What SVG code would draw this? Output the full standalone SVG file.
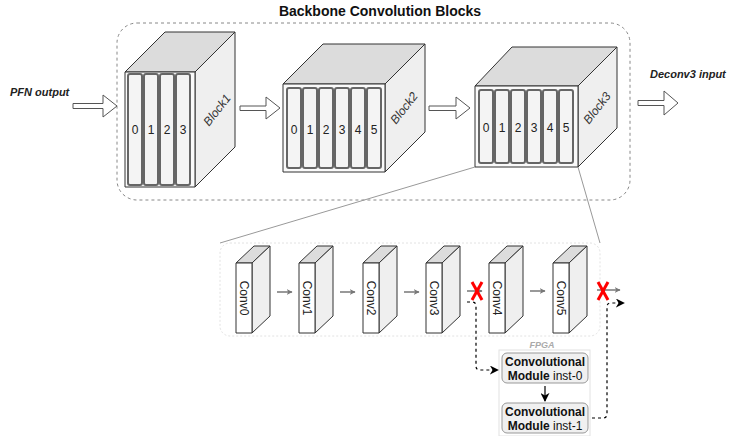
<svg xmlns="http://www.w3.org/2000/svg" width="742" height="436" viewBox="0 0 742 436">
<defs>
<marker id="ag" viewBox="0 0 10 10" refX="9" refY="5" markerWidth="6" markerHeight="6" orient="auto" markerUnits="userSpaceOnUse"><path d="M0,0 L10,5 L0,10 L3,5 Z" fill="#777"/></marker>
<marker id="ab" viewBox="0 0 10 10" refX="9" refY="5" markerWidth="9" markerHeight="9" orient="auto" markerUnits="userSpaceOnUse"><path d="M0,0 L10,5 L0,10 L3,5 Z" fill="#000"/></marker>
</defs>
<style>
text{font-family:"Liberation Sans",Arial,sans-serif;}
.t{font-size:12px;fill:#222;text-anchor:middle;}
.lbl{font-size:11px;font-weight:bold;font-style:italic;fill:#222;}
.face{stroke:#333;stroke-width:1;stroke-linejoin:round;}
.front{fill:#fafafa;}
.top{fill:#dcdcdc;}
.side{fill:#efefef;}
.slot{fill:#f4f4f4;stroke:#666;stroke-width:2;}
.blk{font-size:12px;font-style:italic;fill:#333;text-anchor:middle;}
.hollow{fill:#fff;stroke:#555;stroke-width:1;stroke-linejoin:round;}
.g{stroke:#777;stroke-width:1.5;fill:none;}
.x{stroke:#ff0000;stroke-width:3;}
.d{stroke:#000;stroke-width:1.2;stroke-dasharray:3,3;fill:none;}
.mod{fill:#f0f0f0;stroke:#999;stroke-width:1;}
.mt{font-size:12px;fill:#111;text-anchor:middle;}
</style>
<rect width="742" height="436" fill="#fff"/>
<text x="380" y="16" style="font-size:14px;font-weight:bold;fill:#111;text-anchor:middle">Backbone Convolution Blocks</text>
<rect x="117" y="23" width="513" height="177" rx="20" fill="none" stroke="#888" stroke-dasharray="3,3"/>
<text class="lbl" x="10" y="96">PFN output</text>
<text class="lbl" x="650" y="78">Deconv3 input</text>

<g id="block1">
<polygon class="face top" points="125,72 165,32 235,32 195,72"/>
<polygon class="face side" points="195,72 235,32 235,147 195,187"/>
<rect class="face front" x="125" y="72" width="70" height="115"/>
<rect class="slot" x="128" y="74" width="14" height="111" rx="2"/>
<rect class="slot" x="144" y="74" width="14" height="111" rx="2"/>
<rect class="slot" x="160" y="74" width="14" height="111" rx="2"/>
<rect class="slot" x="176" y="74" width="14" height="111" rx="2"/>
<text class="t" x="135" y="134">0</text><text class="t" x="151" y="134">1</text><text class="t" x="167" y="134">2</text><text class="t" x="183" y="134">3</text>
<text class="blk" transform="translate(217,110) rotate(-52)" y="4">Block1</text>
</g>

<g id="block2">
<polygon class="face top" points="283,84 323,44 425,44 385,84"/>
<polygon class="face side" points="385,84 425,44 425,132 385,172"/>
<rect class="face front" x="283" y="84" width="102" height="88"/>
<rect class="slot" x="287" y="88" width="14" height="80" rx="2"/>
<rect class="slot" x="303" y="88" width="14" height="80" rx="2"/>
<rect class="slot" x="319" y="88" width="14" height="80" rx="2"/>
<rect class="slot" x="335" y="88" width="14" height="80" rx="2"/>
<rect class="slot" x="351" y="88" width="14" height="80" rx="2"/>
<rect class="slot" x="367" y="88" width="14" height="80" rx="2"/>
<text class="t" x="294" y="134">0</text><text class="t" x="310" y="134">1</text><text class="t" x="326" y="134">2</text><text class="t" x="342" y="134">3</text><text class="t" x="358" y="134">4</text><text class="t" x="374" y="134">5</text>
<text class="blk" transform="translate(404,108) rotate(-52)" y="4">Block2</text>
</g>

<g id="block3">
<polygon class="face top" points="475,86 512,47 617,47 578,86"/>
<polygon class="face side" points="578,86 617,47 617,128 578,167"/>
<rect class="face front" x="475" y="86" width="103" height="81"/>
<rect class="slot" x="479" y="90" width="14" height="73" rx="2"/>
<rect class="slot" x="495" y="90" width="14" height="73" rx="2"/>
<rect class="slot" x="511" y="90" width="14" height="73" rx="2"/>
<rect class="slot" x="527" y="90" width="14" height="73" rx="2"/>
<rect class="slot" x="543" y="90" width="14" height="73" rx="2"/>
<rect class="slot" x="559" y="90" width="14" height="73" rx="2"/>
<text class="t" x="486" y="132">0</text><text class="t" x="502" y="132">1</text><text class="t" x="518" y="132">2</text><text class="t" x="534" y="132">3</text><text class="t" x="550" y="132">4</text><text class="t" x="566" y="132">5</text>
<text class="blk" transform="translate(597,108) rotate(-52)" y="4">Block3</text>
</g>

<g id="arrows">
<polygon class="hollow" points="73,103.5 103,103.5 103,95 117,106 103,117 103,108.5 73,108.5"/>
<polygon class="hollow" points="240,106 266,106 266,97 280,108 266,119 266,110.5 240,110.5"/>
<polygon class="hollow" points="429,106 456,106 456,97 470,108 456,119 456,110.5 429,110.5"/>
<polygon class="hollow" points="638,100.5 664,100.5 664,91 678,103 664,115 664,105.5 638,105.5"/>
</g>

<g id="zoomlines">
<line x1="475" y1="167" x2="220" y2="243" stroke="#999"/>
<line x1="578" y1="167" x2="600" y2="243" stroke="#999"/>
</g>

<rect id="panel" x="220" y="243" width="380" height="93" rx="10" fill="#fff" stroke="#e2e2e2" stroke-dasharray="2,2"/>

<g id="conv0">
<polygon class="face top" points="236,263 254,246 270,246 252,263"/>
<polygon class="face side" points="252,263 270,246 270,316 252,333"/>
<rect class="face" fill="#fff" x="236" y="263" width="16" height="70"/>
<text class="t" transform="translate(244,298) rotate(90)" y="4">Conv0</text>
</g>
<g id="conv1">
<polygon class="face top" points="299,263 317,246 333,246 315,263"/>
<polygon class="face side" points="315,263 333,246 333,316 315,333"/>
<rect class="face" fill="#fff" x="299" y="263" width="16" height="70"/>
<text class="t" transform="translate(307,298) rotate(90)" y="4">Conv1</text>
</g>
<g id="conv2">
<polygon class="face top" points="363,263 381,246 397,246 379,263"/>
<polygon class="face side" points="379,263 397,246 397,316 379,333"/>
<rect class="face" fill="#fff" x="363" y="263" width="16" height="70"/>
<text class="t" transform="translate(371,298) rotate(90)" y="4">Conv2</text>
</g>
<g id="conv3">
<polygon class="face top" points="426,263 444,246 460,246 442,263"/>
<polygon class="face side" points="442,263 460,246 460,316 442,333"/>
<rect class="face" fill="#fff" x="426" y="263" width="16" height="70"/>
<text class="t" transform="translate(434,298) rotate(90)" y="4">Conv3</text>
</g>
<g id="conv4">
<polygon class="face top" points="489,263 507,246 523,246 505,263"/>
<polygon class="face side" points="505,263 523,246 523,316 505,333"/>
<rect class="face" fill="#fff" x="489" y="263" width="16" height="70"/>
<text class="t" transform="translate(497,298) rotate(90)" y="4">Conv4</text>
</g>
<g id="conv5">
<polygon class="face top" points="553,263 571,246 587,246 569,263"/>
<polygon class="face side" points="569,263 587,246 587,316 569,333"/>
<rect class="face" fill="#fff" x="553" y="263" width="16" height="70"/>
<text class="t" transform="translate(561,298) rotate(90)" y="4">Conv5</text>
</g>

<g id="fpga">
<rect x="499" y="350" width="91" height="86" fill="#fff" stroke="#e2e2e2"/>
<text x="542" y="348" style="font-size:9px;font-weight:bold;font-style:italic;fill:#aaa;text-anchor:middle">FPGA</text>
</g>
<g id="inst0">
<rect class="mod" x="502" y="353" width="86" height="30" rx="5"/>
<text class="mt" x="545" y="366"><tspan font-weight="bold">Convolutional</tspan></text>
<text class="mt" x="545" y="380"><tspan font-weight="bold">Module</tspan> inst-0</text>
</g>
<g id="inst1">
<rect class="mod" x="502" y="403" width="86" height="30" rx="5"/>
<text class="mt" x="545" y="416"><tspan font-weight="bold">Convolutional</tspan></text>
<text class="mt" x="545" y="430"><tspan font-weight="bold">Module</tspan> inst-1</text>
</g>

<g id="connectors">
<line class="g" x1="277" y1="292" x2="292" y2="292" marker-end="url(#ag)"/>
<line class="g" x1="340" y1="292" x2="355" y2="292" marker-end="url(#ag)"/>
<line class="g" x1="404" y1="292" x2="419" y2="292" marker-end="url(#ag)"/>
<line class="g" x1="467" y1="291" x2="482" y2="291" marker-end="url(#ag)"/>
<line class="g" x1="530" y1="291" x2="545" y2="291" marker-end="url(#ag)"/>
<line class="g" x1="597" y1="290" x2="620" y2="290" marker-end="url(#ag)"/>
<line class="x" x1="472" y1="282" x2="482" y2="300"/><line class="x" x1="482" y1="282" x2="472" y2="300"/>
<line class="x" x1="598" y1="282" x2="608" y2="300"/><line class="x" x1="608" y1="282" x2="598" y2="300"/>
<path class="d" d="M467,302 H472 Q476,302 476,306 V366 Q476,370 480,370 H498" marker-end="url(#ab)"/>
<path class="d" d="M592,418 H603 Q607,418 607,414 V307 Q607,303 611,303 H624" marker-end="url(#ab)"/>
<line x1="545" y1="386" x2="545" y2="401" stroke="#000" stroke-width="1.2" marker-end="url(#ab)"/>
</g>
</svg>
